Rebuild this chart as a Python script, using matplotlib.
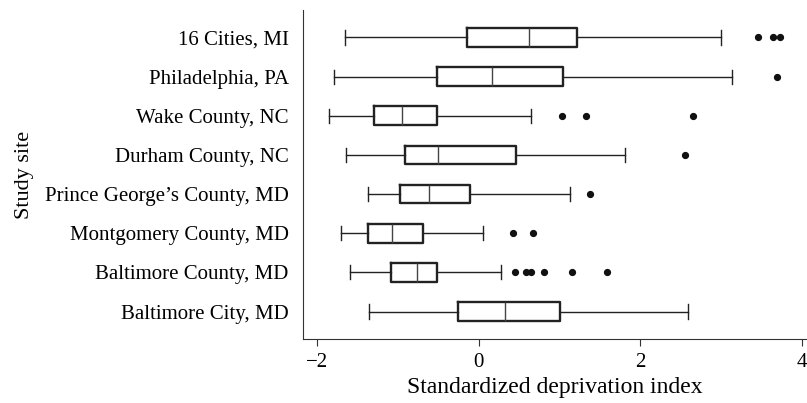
import matplotlib
matplotlib.use("Agg")
import matplotlib.pyplot as plt

# sites, top to bottom
sites = ["16 Cities, MI", "Philadelphia, PA", "Wake County, NC", "Durham County, NC",
         "Prince George\u2019s County, MD", "Montgomery County, MD",
         "Baltimore County, MD", "Baltimore City, MD"]

whislo = [-1.66, -1.79, -1.85, -1.64, -1.37, -1.71, -1.59, -1.36]
q1 = [-0.14, -0.52, -1.29, -0.91, -0.97, -1.37, -1.08, -0.25]
med = [0.62, 0.16, -0.95, -0.50, -0.62, -1.07, -0.76, 0.33]
q3 = [1.22, 1.04, -0.52, 0.46, -0.11, -0.69, -0.52, 1.01]
whishi = [3.00, 3.14, 0.65, 1.81, 1.13, 0.05, 0.28, 2.59]
fliers = [
    [3.46, 3.65, 3.73],
    [3.69],
    [1.03, 1.33, 2.65],
    [2.55],
    [1.38],
    [0.43, 0.67],
    [0.45, 0.59, 0.65, 0.81, 1.16, 1.59],
    [],
]

plt.rcParams["font.family"] = ["Liberation Serif", "DejaVu Serif"]

fig = plt.figure(figsize=(8.07, 4.03), dpi=100)
ax = fig.add_axes([0.375, 0.159, 0.625, 0.816])

stats = []
for i in range(len(sites)):
    stats.append({"whislo": whislo[i], "q1": q1[i], "med": med[i], "q3": q3[i],
                  "whishi": whishi[i], "fliers": fliers[i], "label": sites[i]})

pos = list(range(1, len(sites) + 1))
ax.bxp(stats, positions=pos, vert=False, widths=0.48, capwidths=0.36,
       boxprops=dict(color="#222222", linewidth=1.7),
       medianprops=dict(color="#444444", linewidth=1.0),
       whiskerprops=dict(color="#222222", linewidth=1.0),
       capprops=dict(color="#222222", linewidth=1.0),
       flierprops=dict(marker="o", markerfacecolor="#111111", markeredgecolor="#111111",
                       markersize=4.2))

ax.set_ylim(len(sites) + 0.7, 0.3)
ax.set_xlim(-2.18, 4.066)
ax.set_xticks([-2, 0, 2, 4])

ax.spines["top"].set_visible(False)
ax.spines["right"].set_visible(False)
ax.spines["left"].set_color("#333333")
ax.spines["bottom"].set_color("#333333")
ax.tick_params(axis="y", length=0, pad=10, labelsize=15)
ax.tick_params(axis="x", length=5, direction="out", pad=5, labelsize=15, color="#333333")

ax.set_xlabel("Standardized deprivation index", fontsize=17, labelpad=4)
ax.set_ylabel("Study site", fontsize=16, labelpad=8)

fig.savefig("out.png", dpi=100)
